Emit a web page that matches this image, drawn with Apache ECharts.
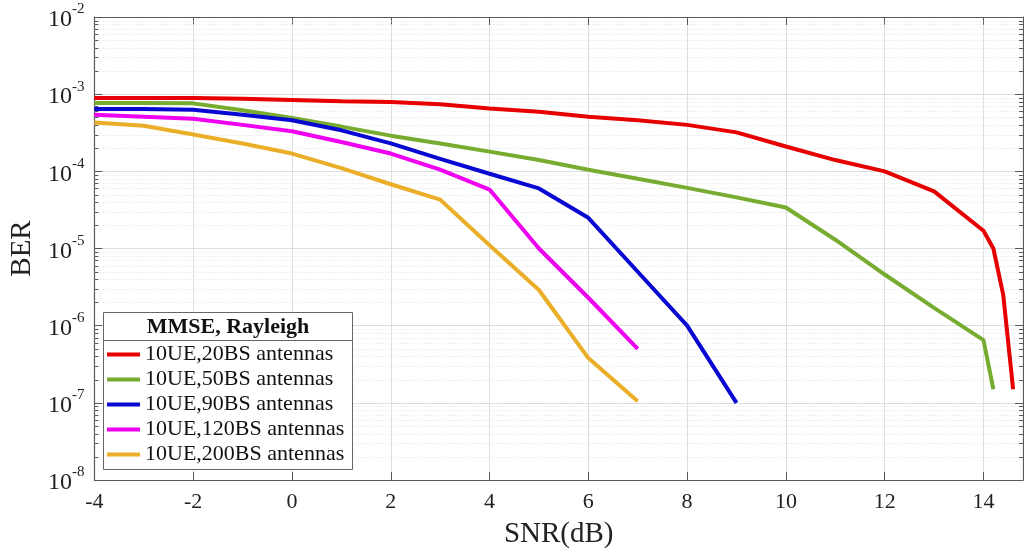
<!DOCTYPE html>
<html>
<head>
<meta charset="utf-8">
<title>BER vs SNR, MMSE Rayleigh</title>
<script src="https://cdn.jsdelivr.net/npm/echarts@6/dist/echarts.min.js"></script>
<style>
  html, body { margin: 0; padding: 0; background: #fff; }
  #chart { width: 1024px; height: 554px; }
</style>
</head>
<body>
<div id="chart"></div>
<script>
// SNR points (dB) for each curve
const snrRed    = [-4, -3, -2, -1, 0, 1, 2, 3, 4, 5, 6, 7, 8, 9, 10, 11, 12, 13, 14, 14.2, 14.4, 14.6];
const snrGreen  = [-4, -3, -2, -1, 0, 1, 2, 3, 4, 5, 6, 7, 8, 9, 10, 11, 12, 13, 14, 14.2];
const snrBlue   = [-4, -3, -2, -1, 0, 1, 2, 3, 4, 5, 6, 7, 8, 9];
const snrPink   = [-4, -3, -2, -1, 0, 1, 2, 3, 4, 5, 6, 7];
const snrOrange = [-4, -3, -2, -1, 0, 1, 2, 3, 4, 5, 6, 7];

// Bit error rate for each antenna configuration
const berRed    = [8.9e-4, 8.9e-4, 8.9e-4, 8.7e-4, 8.4e-4, 8.1e-4, 7.9e-4, 7.4e-4, 6.5e-4, 5.9e-4, 5.1e-4, 4.6e-4, 4.0e-4, 3.2e-4, 2.1e-4, 1.4e-4, 1.0e-4, 5.5e-5, 1.7e-5, 1.0e-5, 2.5e-6, 1.5e-7];
const berGreen  = [7.7e-4, 7.7e-4, 7.6e-4, 6.2e-4, 4.9e-4, 3.8e-4, 2.9e-4, 2.3e-4, 1.8e-4, 1.4e-4, 1.05e-4, 8.0e-5, 6.1e-5, 4.6e-5, 3.4e-5, 1.3e-5, 4.6e-6, 1.7e-6, 6.5e-7, 1.5e-7];
const berBlue   = [6.4e-4, 6.4e-4, 6.3e-4, 5.4e-4, 4.6e-4, 3.4e-4, 2.3e-4, 1.45e-4, 9.3e-5, 6.0e-5, 2.5e-5, 5.0e-6, 1.0e-6, 1.0e-7];
const berPink   = [5.4e-4, 5.1e-4, 4.8e-4, 4.0e-4, 3.3e-4, 2.4e-4, 1.7e-4, 1.05e-4, 5.8e-5, 1.0e-5, 2.3e-6, 5.0e-7];
const berOrange = [4.3e-4, 3.9e-4, 3.0e-4, 2.3e-4, 1.7e-4, 1.1e-4, 6.8e-5, 4.3e-5, 1.1e-5, 2.9e-6, 3.8e-7, 1.05e-7];

const seriesNames = [
  '10UE,20BS antennas',
  '10UE,50BS antennas',
  '10UE,90BS antennas',
  '10UE,120BS antennas',
  '10UE,200BS antennas'
];
const seriesColors = ['#E60000', '#77AC30', '#0808D2', '#F000F0', '#EAAE28'];

// Minor gridline values (2..9 within each decade)
const minorValues = [
  2e-8, 3e-8, 4e-8, 5e-8, 6e-8, 7e-8, 8e-8, 9e-8,
  2e-7, 3e-7, 4e-7, 5e-7, 6e-7, 7e-7, 8e-7, 9e-7,
  2e-6, 3e-6, 4e-6, 5e-6, 6e-6, 7e-6, 8e-6, 9e-6,
  2e-5, 3e-5, 4e-5, 5e-5, 6e-5, 7e-5, 8e-5, 9e-5,
  2e-4, 3e-4, 4e-4, 5e-4, 6e-4, 7e-4, 8e-4, 9e-4,
  2e-3, 3e-3, 4e-3, 5e-3, 6e-3, 7e-3, 8e-3, 9e-3
];

const xMin = -4, xMax = 14.8;
const FONT = "'Liberation Serif', 'Times New Roman', serif";
const AXIS_COLOR = '#5a5a5a';

const zip = (xs, ys) => xs.map((x, i) => [x, ys[i]]);
const seriesData = [
  zip(snrRed, berRed),
  zip(snrGreen, berGreen),
  zip(snrBlue, berBlue),
  zip(snrPink, berPink),
  zip(snrOrange, berOrange)
];

const chart = echarts.init(document.getElementById('chart'), null, { renderer: 'canvas' });

const logAxisBase = {
  type: 'log',
  logBase: 10,
  min: 1e-8,
  max: 1e-2,
  interval: 1,
  splitNumber: 6
};

const option = {
  backgroundColor: '#fff',
  animation: false,
  grid: { left: 93, right: 1, top: 17, bottom: 73, containLabel: false },
  xAxis: [
    {
      type: 'value', min: xMin, max: xMax, interval: 2,
      name: 'SNR(dB)', nameLocation: 'middle', nameGap: 40,
      nameTextStyle: { fontFamily: FONT, fontSize: 29, color: '#222' },
      axisLine: { show: true, onZero: false, lineStyle: { color: AXIS_COLOR, width: 1.2 } },
      axisTick: { show: true, inside: true, length: 8, lineStyle: { color: AXIS_COLOR } },
      axisLabel: {
        fontFamily: FONT, fontSize: 22, color: '#222', margin: 11, showMaxLabel: false,
        formatter: v => (Math.abs(v % 2) < 1e-9 ? String(v) : '')
      },
      splitLine: { show: true, lineStyle: { color: '#dedede', width: 1 } }
    },
    {
      type: 'value', min: xMin, max: xMax, interval: 2, position: 'top',
      axisLine: { show: true, onZero: false, lineStyle: { color: AXIS_COLOR, width: 1.2 } },
      axisTick: { show: true, inside: true, length: 8, lineStyle: { color: AXIS_COLOR } },
      axisLabel: { show: false },
      splitLine: { show: false }
    }
  ],
  yAxis: [
    Object.assign({}, logAxisBase, {
      position: 'left',
      name: 'BER', nameLocation: 'middle', nameGap: 56,
      nameTextStyle: { fontFamily: FONT, fontSize: 29, color: '#222' },
      axisLine: { show: true, onZero: false, lineStyle: { color: AXIS_COLOR, width: 1.2 } },
      axisTick: { show: true, inside: true, length: 8, lineStyle: { color: AXIS_COLOR } },
      axisLabel: {
        margin: 10,
        formatter: v => '{b|10}{s|' + Math.round(Math.log10(v)) + '}',
        rich: {
          b: { fontFamily: FONT, fontSize: 24, color: '#222', lineHeight: 30, verticalAlign: 'bottom' },
          s: { fontFamily: FONT, fontSize: 15, color: '#222', lineHeight: 30, verticalAlign: 'top', padding: [0, 0, 10, 0] }
        }
      },
      splitLine: { show: true, lineStyle: { color: '#dedede', width: 1 } }
    }),
    Object.assign({}, logAxisBase, {
      position: 'right',
      axisLine: { show: true, onZero: false, lineStyle: { color: AXIS_COLOR, width: 1.2 } },
      axisTick: { show: true, inside: true, length: 8, lineStyle: { color: AXIS_COLOR } },
      axisLabel: { show: false },
      splitLine: { show: false }
    })
  ],
  legend: {
    orient: 'vertical',
    left: 107,
    top: 342,
    padding: 0,
    itemGap: 0,
    itemWidth: 33,
    itemHeight: 4,
    icon: 'rect',
    z: 10,
    data: seriesNames,
    selectedMode: false,
    textStyle: { fontFamily: FONT, fontSize: 22, color: '#111', lineHeight: 25, height: 25 }
  },
  graphic: [
    {
      type: 'rect', z: 8,
      shape: { x: 103.5, y: 312.5, width: 249, height: 157 },
      style: { fill: '#fff', stroke: '#666', lineWidth: 1 }
    },
    {
      type: 'line', z: 9,
      shape: { x1: 103.5, y1: 340.5, x2: 352.5, y2: 340.5 },
      style: { stroke: '#666', lineWidth: 1 }
    },
    {
      type: 'text', z: 9,
      x: 228, y: 327,
      style: {
        text: 'MMSE, Rayleigh', fontFamily: FONT, fontSize: 22, fontWeight: 'bold',
        fill: '#111', align: 'center', verticalAlign: 'middle'
      }
    }
  ],
  series: [
    {
      // dotted minor gridlines with inward minor ticks on both vertical edges
      type: 'custom',
      name: 'minor',
      z: 1,
      silent: true,
      data: minorValues.map(v => [xMin, v]),
      renderItem: (params, api) => {
        const cs = params.coordSys;
        const y = Math.round(api.coord([xMin, api.value(1)])[1]) + 0.5;
        return {
          type: 'group',
          children: [
            { type: 'line', shape: { x1: cs.x, y1: y, x2: cs.x + cs.width, y2: y },
              style: { stroke: '#e2e2e2', lineWidth: 1, lineDash: [1, 2] } },
            { type: 'line', shape: { x1: cs.x, y1: y, x2: cs.x + 4, y2: y },
              style: { stroke: AXIS_COLOR, lineWidth: 1 } },
            { type: 'line', shape: { x1: cs.x + cs.width - 4, y1: y, x2: cs.x + cs.width, y2: y },
              style: { stroke: AXIS_COLOR, lineWidth: 1 } }
          ]
        };
      }
    }
  ].concat(seriesNames.map((name, i) => ({
    type: 'line',
    name: name,
    data: seriesData[i],
    showSymbol: false,
    symbol: 'none',
    z: 3,
    color: seriesColors[i],
    lineStyle: { width: 4, color: seriesColors[i] }
  })))
};

chart.setOption(option);
</script>
</body>
</html>
